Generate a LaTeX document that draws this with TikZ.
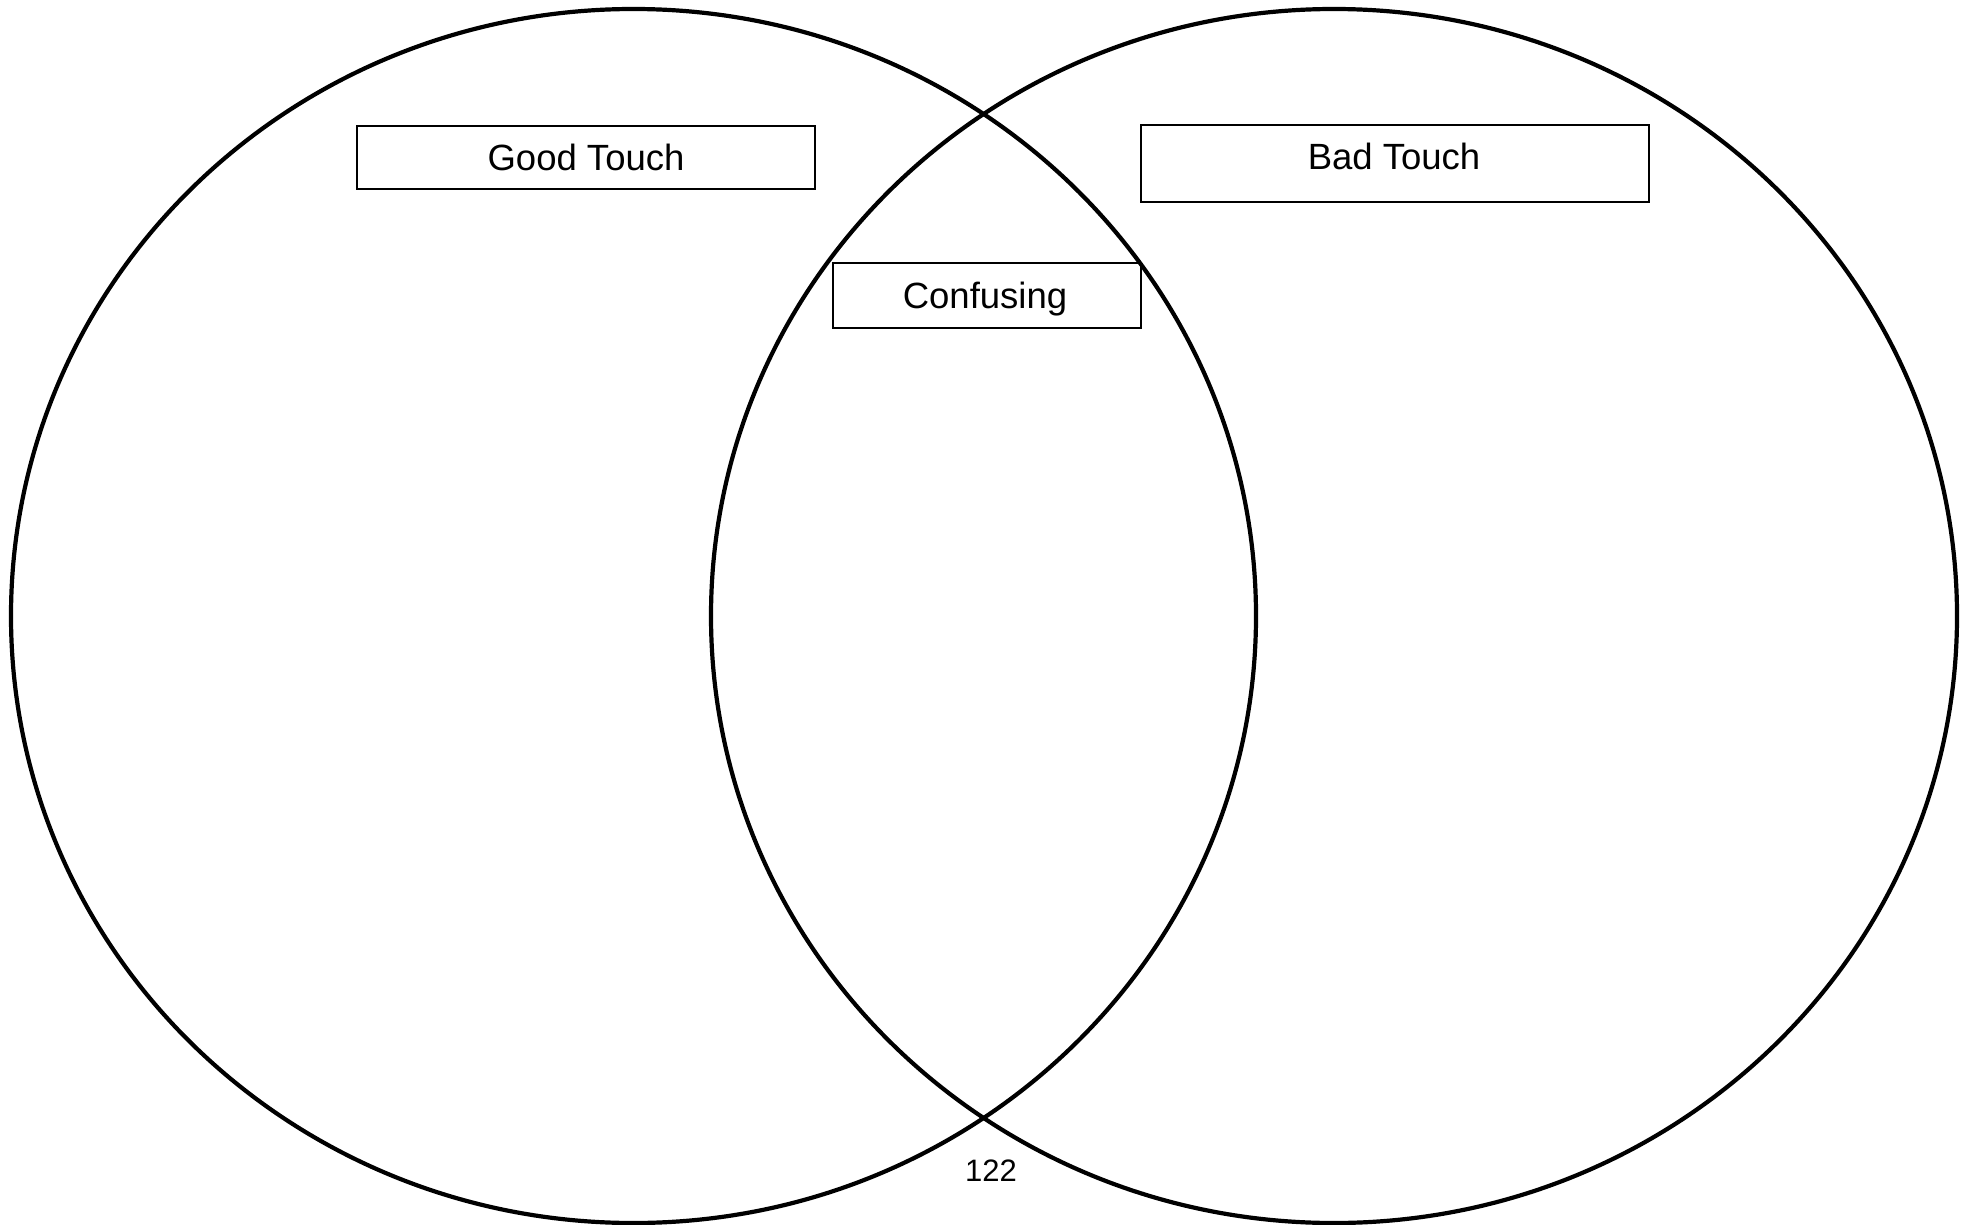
\documentclass[tikz,border=0pt]{standalone}
\usepackage{fontspec}
\setmainfont{Liberation Sans}
\begin{document}
\begin{tikzpicture}[x=1pt,y=-1pt,
  ring/.style={draw=black,line width=4.2pt},
  labelbox/.style={draw=black,line width=2pt,inner sep=0pt,anchor=north west},
  lbl/.style={font=\fontsize{36.5}{40}\selectfont,inner sep=0pt,anchor=base},
  pagenum/.style={font=\fontsize{31}{34}\selectfont,inner sep=0pt,anchor=base}]
\useasboundingbox (0,0) rectangle (1973,1225);
\draw[ring] (633.5,616) ellipse [x radius=622.5, y radius=607];
\draw[ring] (1334,616) ellipse [x radius=623, y radius=607];
\node[labelbox,minimum width=458,minimum height=63] (good) at (356,125) {};
\node[labelbox,minimum width=508,minimum height=77] (bad) at (1140,124) {};
\node[labelbox,minimum width=308,minimum height=65] (conf) at (832,262) {};
\coordinate (gb) at (586,171);
\coordinate (bb) at (1394,170);
\coordinate (cb) at (985,308);
\coordinate (pb) at (991,1181);
\node[lbl] (goodt) at (gb) {Good Touch};
\node[lbl] (badt) at (bb) {Bad Touch};
\node[lbl] (conft) at (cb) {Confusing};
\node[pagenum] (pg) at (pb) {122};
\end{tikzpicture}
\end{document}
